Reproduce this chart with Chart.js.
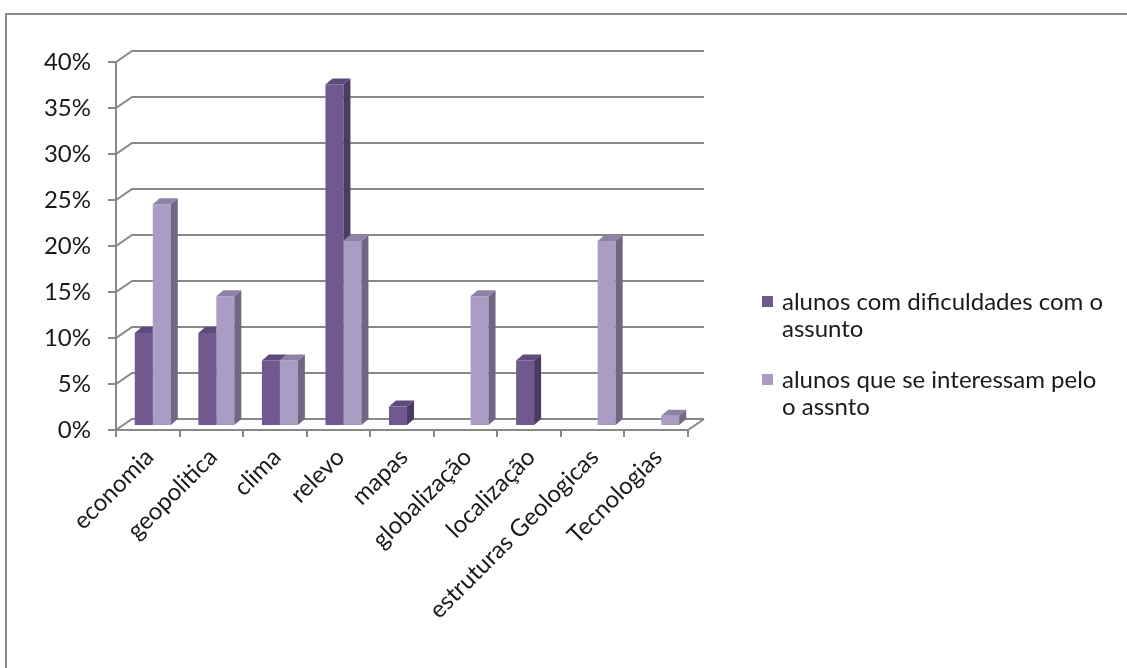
<!DOCTYPE html>
<html>
<head>
<meta charset="utf-8">
<script src="https://cdn.jsdelivr.net/npm/chart.js@4/dist/chart.umd.min.js"></script>
<style>
html,body{margin:0;padding:0;background:#fff;}
#wrap{width:1127px;height:668px;position:relative;}
</style>
</head>
<body>
<div id="wrap"><canvas id="c" width="1127" height="668"></canvas></div>
<script>
const categories = ['economia','geopolitica','clima','relevo','mapas','globalização','localização','estruturas Geologicas','Tecnologias'];
const dificuldades = [10,10,7,37,2,0,7,0,0];
const interesse = [24,14,7,20,0,14,0,20,1];
const seriesNames = ['alunos com dificuldades com o assunto','alunos que se interessam pelo o assnto'];
const legendLines = [['alunos com dificuldades com o','assunto'],['alunos que se interessam pelo','o assnto']];
const yMin = 0, yMax = 40, yStep = 5;

const FONT = 'Lato, "Open Sans", sans-serif';
const FSIZE = 24;
const WALL_DX = 16, WALL_DY = -11;
const BAR_SX = 5, BAR_SY = -5;
const BAR_DX = 7, BAR_DY = -6;
const GRID = '#888888';

const faces = [
  {front:'#71588f', side:'#4b3a63', top:'#5f4a7d'},
  {front:'#aa9cc2', side:'#6f6783', top:'#8e82a7'}
];

const plugin3d = {
  id:'frame3d',
  beforeDraw(chart){
    const ctx = chart.ctx;
    ctx.save();
    ctx.fillStyle = '#fff';
    ctx.fillRect(0,0,chart.width,chart.height);
    ctx.strokeStyle = '#8a8a8a';
    ctx.lineWidth = 2;
    ctx.strokeRect(6,14,1300,800);
    ctx.restore();
  },
  beforeDatasetsDraw(chart){
    const ctx = chart.ctx, y = chart.scales.y;
    const L = chart.chartArea.left, R = chart.chartArea.right;
    ctx.save();
    ctx.strokeStyle = GRID;
    ctx.lineWidth = 2;
    y.ticks.forEach(t => {
      const py = Math.round(y.getPixelForValue(t.value));
      ctx.beginPath();
      ctx.moveTo(L - 8, py);
      ctx.lineTo(L, py);
      ctx.lineTo(L + WALL_DX, py + WALL_DY);
      ctx.lineTo(R + WALL_DX, py + WALL_DY);
      ctx.stroke();
    });
    const y0 = Math.round(y.getPixelForValue(0));
    const yT = Math.round(y.getPixelForValue(yMax));
    ctx.beginPath();
    ctx.moveTo(L, yT); ctx.lineTo(L, y0 + 7);
    ctx.moveTo(L, y0); ctx.lineTo(R, y0); ctx.lineTo(R + WALL_DX, y0 + WALL_DY);
    ctx.stroke();
    const n = categories.length;
    for (let i = 0; i <= n; i++) {
      const px = Math.round(L + (R - L) * i / n);
      ctx.beginPath();
      ctx.moveTo(px, y0); ctx.lineTo(px, y0 + 7);
      ctx.stroke();
    }
    ctx.restore();
    ctx.save();
    ctx.translate(BAR_SX, BAR_SY);
  },
  afterDatasetDraw(chart, args){
    const ctx = chart.ctx;
    const idx = args.index;
    const f = faces[idx];
    const otherMeta = idx === 0 ? chart.getDatasetMeta(1) : null;
    args.meta.data.forEach((el, i) => {
      const v = chart.data.datasets[idx].data[i];
      if (!v) return;
      const p = el.getProps(['x','y','base','width'], true);
      const l = p.x - p.width/2, r = p.x + p.width/2;
      ctx.save();
      if (otherMeta && chart.data.datasets[1].data[i]) {
        const q = otherMeta.data[i].getProps(['x','y','base','width'], true);
        const ol = q.x - q.width/2, or = q.x + q.width/2;
        ctx.beginPath();
        ctx.rect(-2000, -2000, 6000, 6000);
        ctx.moveTo(ol, q.y); ctx.lineTo(or, q.y); ctx.lineTo(or, q.base); ctx.lineTo(ol, q.base); ctx.closePath();
        ctx.moveTo(ol, q.y); ctx.lineTo(ol + BAR_DX, q.y + BAR_DY); ctx.lineTo(or + BAR_DX, q.y + BAR_DY); ctx.lineTo(or, q.y); ctx.closePath();
        ctx.clip('evenodd');
      }
      ctx.fillStyle = f.side;
      ctx.beginPath();
      ctx.moveTo(r, p.y); ctx.lineTo(r + BAR_DX, p.y + BAR_DY);
      ctx.lineTo(r + BAR_DX, p.base + BAR_DY); ctx.lineTo(r, p.base);
      ctx.closePath(); ctx.fill();
      ctx.fillStyle = f.top;
      ctx.beginPath();
      ctx.moveTo(l, p.y); ctx.lineTo(l + BAR_DX, p.y + BAR_DY);
      ctx.lineTo(r + BAR_DX, p.y + BAR_DY); ctx.lineTo(r, p.y);
      ctx.closePath(); ctx.fill();
      ctx.restore();
    });
  },
  afterDatasetsDraw(chart){
    chart.ctx.restore();
  },
  afterDraw(chart){
    const ctx = chart.ctx;
    ctx.save();
    ctx.font = FSIZE + 'px ' + FONT;
    ctx.textBaseline = 'middle';
    const lx = 762, tx = 782, lineH = 27;
    const starts = [302, 380];
    legendLines.forEach((lines, i) => {
      ctx.fillStyle = faces[i].front;
      ctx.fillRect(lx, starts[i] - 6, 11, 11);
      ctx.fillStyle = '#1a1a1a';
      lines.forEach((t, k) => ctx.fillText(t, tx, starts[i] + k * lineH));
    });
    ctx.restore();
  }
};

new Chart(document.getElementById('c'), {
  type:'bar',
  data:{
    labels: categories,
    datasets:[
      {label: seriesNames[0], data: dificuldades, backgroundColor: faces[0].front, clip: false},
      {label: seriesNames[1], data: interesse, backgroundColor: faces[1].front, clip: false}
    ]
  },
  options:{
    responsive:false,
    devicePixelRatio:1,
    animation:false,
    events:[],
    layout:{padding:{left:0, right:439, top:62, bottom:0}},
    plugins:{legend:{display:false}, tooltip:{enabled:false}, title:{display:false}},
    datasets:{bar:{categoryPercentage:0.566, barPercentage:1, borderWidth:0}},
    scales:{
      x:{
        grid:{display:false, drawTicks:false},
        border:{display:false},
        ticks:{color:'#1a1a1a', font:{family:FONT, size:FSIZE}, maxRotation:45, minRotation:45, padding:13, labelOffset:2, autoSkip:false},
        afterFit(s){ s.height = 238; }
      },
      y:{
        min:yMin, max:yMax,
        grid:{display:false, drawTicks:false},
        border:{display:false},
        ticks:{stepSize:yStep, color:'#1a1a1a', font:{family:FONT, size:FSIZE}, padding:25, callback:v => v + '%'},
        afterFit(s){ s.width = 116; }
      }
    }
  },
  plugins:[plugin3d]
});
</script>
</body>
</html>
